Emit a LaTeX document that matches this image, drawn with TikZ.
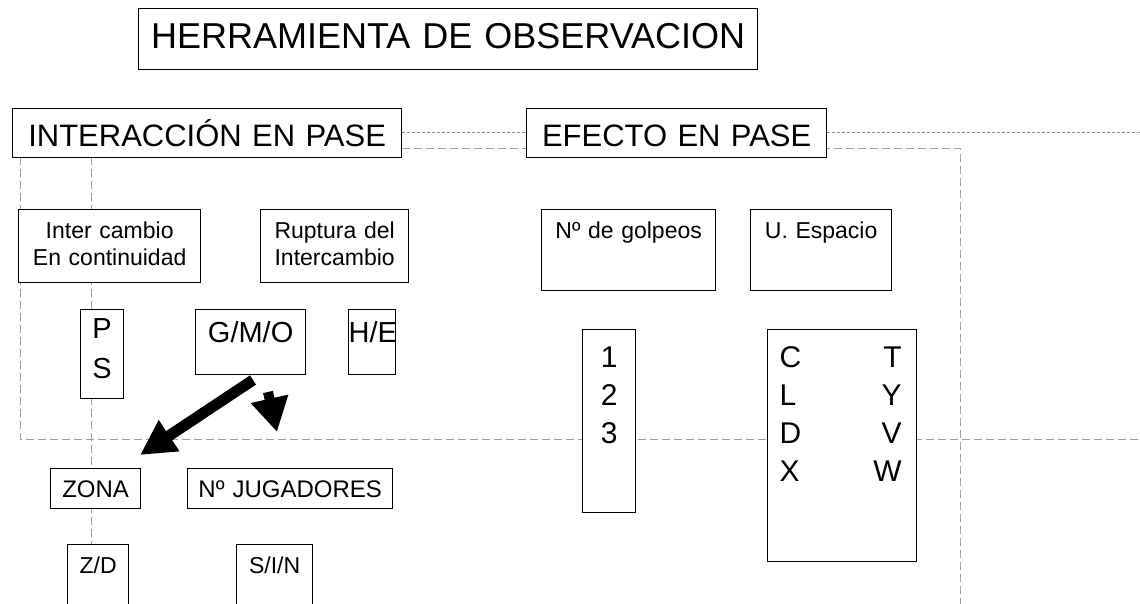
\documentclass[tikz,border=0pt]{standalone}
\usepackage{fontspec}
\setmainfont{Liberation Sans}
\usetikzlibrary{arrows.meta,backgrounds}
\begin{document}
\begin{tikzpicture}[x=1pt,y=-1pt,
  bx/.style={draw, line width=1.3pt, fill=white, inner sep=0pt, align=center, anchor=north west},
  guide/.style={draw=black!38, line width=0.9pt, dash pattern=on 8pt off 4pt},
  fineguide/.style={draw=black!45, line width=0.8pt, dash pattern=on 3pt off 2pt},
  fbig/.style={font=\fontsize{36}{40}\selectfont},
  fhead/.style={font=\fontsize{31}{35}\selectfont},
  fsmall/.style={font=\fontsize{23}{27}\selectfont},
  fmid/.style={font=\fontsize{29}{40}\selectfont},
  flist/.style={font=\fontsize{30}{38}\selectfont},
  fatarrow/.style={line width=11pt, -{Triangle[length=35pt,width=35pt]}}]
\path[use as bounding box] (0,0) rectangle (1140,604);
\clip (0,0) rectangle (1140,604);

% boxes
\node[bx, fbig, text width=619pt, text height=39.9pt, text depth=21.1pt] (title) at (138,8) {HERRAMIENTA DE OBSERVACION};
\node[bx, fhead, text width=389pt, text height=37.6pt, text depth=11.4pt] (inter) at (12,108) {INTERACCIÓN EN PASE};
\node[bx, fhead, text width=300pt, text height=37.6pt, text depth=11.4pt] (efecto) at (526,108) {EFECTO EN PASE};

\node[bx, fsmall, text width=182pt, text height=29.3pt, text depth=43.7pt] (cont) at (18,209) {Inter cambio\\En continuidad};
\node[bx, fsmall, text width=148pt, text height=29.3pt, text depth=43.7pt] (rupt) at (260,209) {Ruptura del\\Intercambio};
\node[bx, fsmall, text width=174pt, text height=28.5pt, text depth=52.5pt] (golpeos) at (541,209) {Nº de golpeos};
\node[bx, fsmall, text width=141pt, text height=28.5pt, text depth=52.5pt] (espacio) at (750,209) {U. Espacio};

\node[bx, fmid, text width=43pt, text height=29pt, text depth=60pt] (ps) at (80,309) {P\\S};
\node[bx, fmid, text width=110pt, text height=33pt, text depth=32pt] (gmo) at (195,309) {G/M/O};
\node[bx, fmid, text width=47pt, text height=33pt, text depth=32pt] (he) at (348,309) {H/E};

\node[bx, flist, text width=53pt, text height=37.7pt, text depth=145.3pt] (nums) at (582,329) {1\\2\\3};
\node[bx, flist, align=left, text width=149pt, text height=37.7pt, text depth=194.3pt] (letras) at (767,329)
  {\hspace*{12pt}\makebox[100pt][l]{C}\makebox[22pt][r]{T}\\
   \hspace*{12pt}\makebox[100pt][l]{L}\makebox[22pt][r]{Y}\\
   \hspace*{12pt}\makebox[100pt][l]{D}\makebox[22pt][r]{V}\\
   \hspace*{12pt}\makebox[100pt][l]{X}\makebox[22pt][r]{W}};

\node[bx, fsmall, font=\fontsize{24}{28}\selectfont, text width=90pt, text height=28.7pt, text depth=11.3pt] (zona) at (50,468) {ZONA};
\node[bx, fsmall, font=\fontsize{24}{28}\selectfont, text width=205pt, text height=28.7pt, text depth=11.3pt] (njug) at (187,468) {Nº JUGADORES};
\node[bx, fsmall, text width=61pt, text height=28.7pt, text depth=60pt] (zd) at (67,544) {Z/D};
\node[bx, fsmall, text width=76pt, text height=28.7pt, text depth=60pt] (sin) at (236,544) {S/I/N};

% guide lines behind the boxes
\coordinate (g1) at (1140,132);
\coordinate (g2) at (960,148);
\coordinate (g3) at (960,604);
\coordinate (l1) at (20,157);
\coordinate (l2) at (20,439);
\coordinate (l3) at (1140,439);
\coordinate (v1) at (91,157);
\coordinate (v2) at (91,604);
\begin{scope}[on background layer]
\draw[fineguide] (inter.east |- g1) -- (g1);
\draw[guide] (inter.east |- g2) -- (g2) -- (g3);
\draw[guide] (l1) -- (l2) -- (l3);
\draw[guide] (v1) -- (v2);
\end{scope}

% arrows
\coordinate (a1s) at (253,380);
\coordinate (a1e) at (140,455);
\coordinate (a2s) at (268,392);
\coordinate (a2e) at (277,432);
\draw[fatarrow] (a1s) -- (a1e);
\draw[fatarrow, line width=10pt, -{Triangle[length=34pt,width=36pt]}] (a2s) -- (a2e);
\end{tikzpicture}
\end{document}
